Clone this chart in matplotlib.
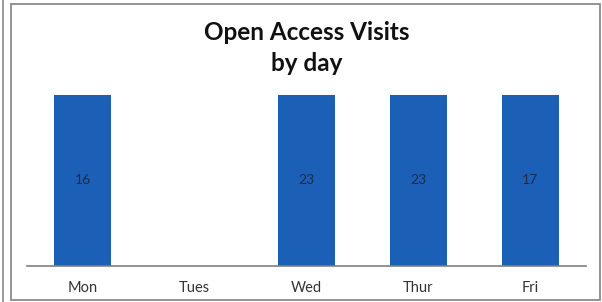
import matplotlib
matplotlib.use("Agg")
import matplotlib.pyplot as plt
from matplotlib.patches import Rectangle
from matplotlib.lines import Line2D

# ---- data ----
days = ["Mon", "Tues", "Wed", "Thur", "Fri"]
visits = [16, 0, 23, 23, 17]
y_top = 15  # axis was capped below the values, so the bars are cut off

BAR_COLOR = "#1b60b6"
LABEL_COLOR = "#1c2b4f"
TEXT_COLOR = "#333333"
W, H = 602, 302

plt.rcParams["font.family"] = ["Lato", "DejaVu Sans"]

fig = plt.figure(figsize=(W / 100, H / 100), dpi=100)
fig.patch.set_facecolor("white")

ax = fig.add_axes([27 / W, 36 / H, (586 - 27) / W, (266 - 95) / H])
x = range(len(days))
ax.bar(x, visits, width=0.51, color=BAR_COLOR, zorder=2)
ax.set_xlim(-0.5, len(days) - 0.5)
ax.set_ylim(0, y_top)

for i, v in enumerate(visits):
    if v > 0:
        ax.text(i, y_top / 2, str(v), ha="center", va="center",
                fontsize=10, color=LABEL_COLOR, zorder=3)

ax.set_xticks(list(x))
ax.set_xticklabels(days, fontsize=10.5, color=TEXT_COLOR)
ax.tick_params(axis="x", length=0, pad=11)
ax.set_yticks([])
for s in ["top", "right", "left"]:
    ax.spines[s].set_visible(False)
ax.spines["bottom"].set_color("#808080")
ax.spines["bottom"].set_linewidth(1.2)

# ---- title ----
cx = (27 + 586) / 2 / W
fig.text(cx, 1 - 32 / H, "Open Access Visits", ha="center", va="center",
         fontsize=17.5, fontweight="bold", color="#111111")
fig.text(cx, 1 - 63 / H, "by day", ha="center", va="center",
         fontsize=17.5, fontweight="bold", color="#111111")

# ---- chart frame ----
fig.patches.append(Rectangle((10.5 / W, 2 / H), (600 - 10.5) / W, (298.5 - 2) / H,
                             transform=fig.transFigure, fill=False,
                             edgecolor="#8a8a8a", linewidth=1.3))
fig.lines.append(Line2D([2.5 / W, 2.5 / W], [0, 1], transform=fig.transFigure,
                        color="#8a8a8a", linewidth=1.2))

fig.savefig("out.png", dpi=100)
